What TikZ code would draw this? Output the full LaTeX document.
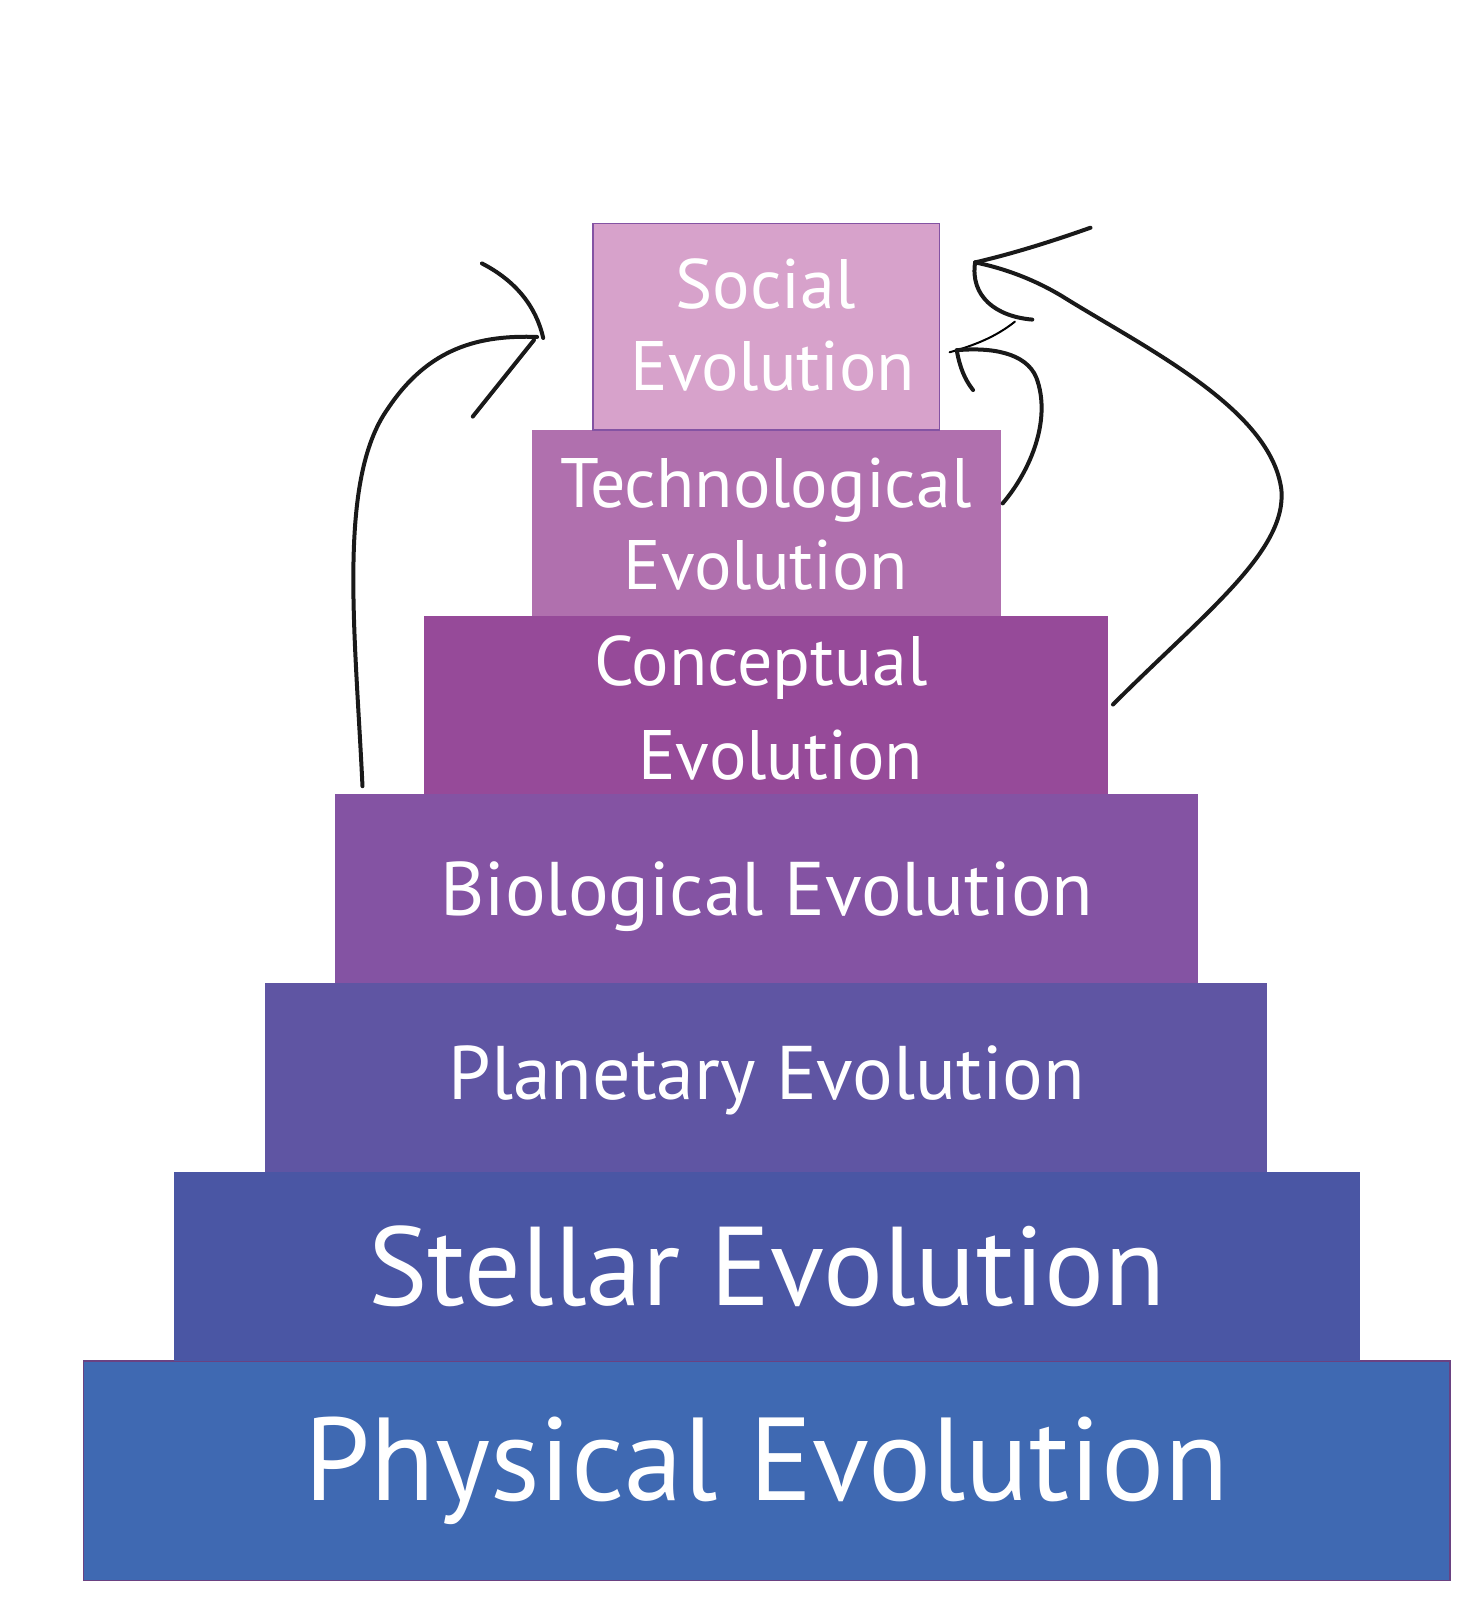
\documentclass[tikz,border=0pt]{standalone}
\usepackage{fontspec}
\setmainfont{PT Sans}
\definecolor{cSoc}{HTML}{D7A2CB}
\definecolor{cTech}{HTML}{B070AE}
\definecolor{cCon}{HTML}{964A99}
\definecolor{cBio}{HTML}{8453A3}
\definecolor{cPla}{HTML}{5F55A3}
\definecolor{cSte}{HTML}{4A56A4}
\definecolor{cPhy}{HTML}{3F69B2}
\begin{document}
\begin{tikzpicture}[x=1.021pt,y=-1.021pt,
  lay/.style={text=white,align=center,inner sep=0pt},
  hand/.style={line width=4pt,line cap=round,draw=black!90}]
\useasboundingbox (0,0) rectangle (1438,1567);
\fill[cPhy] (82,1333) rectangle (1420,1548);
\draw[draw=cBio!80!black,line width=1.5pt] (82,1333) rectangle (1420,1548);
\fill[cSte] (170,1148) rectangle (1332,1333);
\fill[cPla] (260,963) rectangle (1241,1148);
\fill[cBio] (328,778) rectangle (1173,963);
\fill[cCon] (415,603) rectangle (1085,778);
\fill[cTech] (521,421) rectangle (980,603);
\filldraw[fill=cSoc,draw=cBio,line width=1.5pt] (581,219) rectangle (920,421);
\node[lay,font=\fontsize{118}{130}\selectfont] (phy) at (751,1440) {Physical Evolution};
\node[lay,font=\fontsize{112}{124}\selectfont] (ste) at (751,1240) {Stellar Evolution};
\node[lay,font=\fontsize{76}{84}\selectfont] (pla) at (751,1058) {Planetary Evolution};
\node[lay,font=\fontsize{76}{84}\selectfont] (bio) at (751,878) {Biological Evolution};
\node[lay,font=\fontsize{70}{94}\selectfont] (con) at (745,693) {Conceptual\\\hspace*{40pt}Evolution};
\node[lay,font=\fontsize{70}{82}\selectfont] (tech) at (750,513) {Technological\\Evolution};
\node[lay,font=\fontsize{70}{82}\selectfont] (soc) at (750,318) {Social\\\hspace*{14pt}Evolution};
% left arrow
\coordinate (lt) at (526,330);
\draw[hand] (355,770) .. controls (348,620) and (330,470) .. (380,400) .. controls (420,340) and (470,328) .. (lt);
\draw[hand] (472,258) .. controls (505,275) and (525,300) .. (532,331);
\draw[hand] (463,408) -- (523,333);
% big right arrow
\coordinate (rt) at (955,257);
\draw[hand] (1090,690) .. controls (1180,600) and (1260,540) .. (1255,480) .. controls (1245,400) and (1120,340) .. (1040,290) .. controls (1010,272) and (980,262) .. (rt);
\draw[hand] (1068,223) .. controls (1020,240) and (985,250) .. (rt);
\draw[hand] (rt) .. controls (950,290) and (975,310) .. (1011,313);
\draw[line width=2pt,line cap=round] (994,315) .. controls (975,330) and (955,338) .. (930,345);
% small right arrow
\coordinate (st) at (937,343);
\draw[hand] (982,493) .. controls (1010,460) and (1030,410) .. (1015,370) .. controls (1005,345) and (970,340) .. (st);
\draw[hand] (st) .. controls (940,360) and (945,372) .. (953,382);
\end{tikzpicture}
\end{document}
